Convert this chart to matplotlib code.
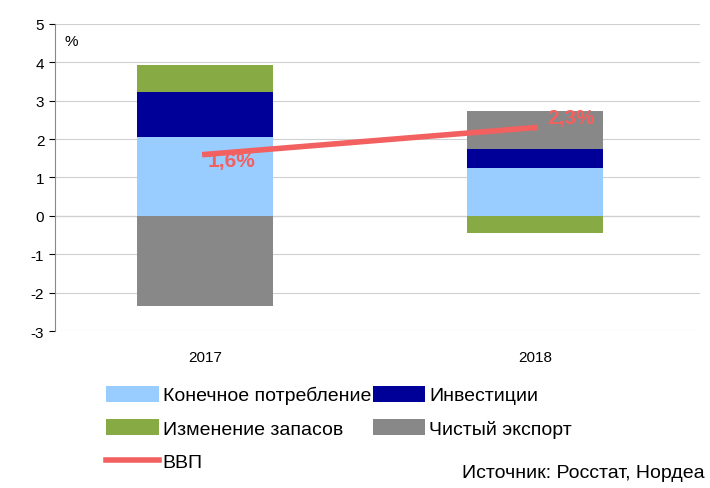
import matplotlib
matplotlib.use("Agg")
import matplotlib.pyplot as plt
import numpy as np

years = ["2017", "2018"]
consumption = [2.05, 1.25]
investment = [1.17, 0.50]
inventory = [0.71, -0.45]
net_export = [-2.35, 0.98]
gdp = [1.6, 2.3]
gdp_labels = ["1,6%", "2,3%"]

c_cons, c_inv, c_stock, c_net, c_gdp = "#99CCFF", "#000099", "#88AA44", "#888888", "#F26060"

plt.rcParams['font.family'] = ['Liberation Sans', 'DejaVu Sans']
fig = plt.figure(figsize=(7.1, 4.89), dpi=100)
ax = fig.add_axes([0.077, 0.321, 0.909, 0.628])
x = np.arange(len(years))
w = 0.41

pos_base = np.zeros(2); neg_base = np.zeros(2)
handles = {}
for name, vals, col in [("Конечное потребление", consumption, c_cons),
                        ("Инвестиции", investment, c_inv),
                        ("Изменение запасов", inventory, c_stock),
                        ("Чистый экспорт", net_export, c_net)]:
    vals = np.array(vals)
    bottoms = np.where(vals >= 0, pos_base, neg_base)
    b = ax.bar(x, vals, w, bottom=bottoms, color=col, label=name, zorder=2)
    handles[name] = b
    pos_base = pos_base + np.where(vals >= 0, vals, 0)
    neg_base = neg_base + np.where(vals < 0, vals, 0)

ln, = ax.plot(x, gdp, color=c_gdp, lw=4, label="ВВП", zorder=3)
ax.text(x[0] + 0.08, gdp[0] - 0.15, gdp_labels[0], color=c_gdp, fontsize=15, fontweight='bold', ha='center', va='center', zorder=4)
ax.text(x[1] + 0.11, gdp[1] + 0.25, gdp_labels[1], color=c_gdp, fontsize=15, fontweight='bold', ha='center', va='center', zorder=4)

ax.set_xlim(-0.455, 1.5)
ax.set_ylim(-3, 5)
ax.set_yticks(range(-3, 6))
ax.set_yticklabels([str(v) for v in range(-3, 6)], fontsize=11)
ax.set_xticks(x)
ax.set_xticklabels(years, fontsize=11)
ax.tick_params(axis='x', length=0, pad=14)
ax.tick_params(axis='y', length=4, direction='out')
ax.grid(axis='y', color='#D0D0D0', lw=0.8, zorder=0)
for s in ['top', 'right']:
    ax.spines[s].set_visible(False)
ax.spines['left'].set_color('#888888')
ax.spines['bottom'].set_visible(False)
ax.axhline(0, color='#888888', lw=0.8, zorder=1)
ax.text(0.015, 0.93, "%", fontsize=11, transform=ax.transAxes)

order = [handles["Конечное потребление"], handles["Изменение запасов"], ln,
         handles["Инвестиции"], handles["Чистый экспорт"]]
labels = ["Конечное потребление", "Изменение запасов", "ВВП", "Инвестиции", "Чистый экспорт"]
fig.legend(order, labels, ncol=2, loc='upper left', bbox_to_anchor=(0.125, 0.245),
           frameon=False, fontsize=14, handlelength=2.7, handleheight=0.9,
           columnspacing=0.1, labelspacing=0.75, handletextpad=0.2)
fig.text(0.993, 0.015, "Источник: Росстат, Нордеа", fontsize=14, ha='right', va='bottom')
fig.savefig("out.png", dpi=100)
